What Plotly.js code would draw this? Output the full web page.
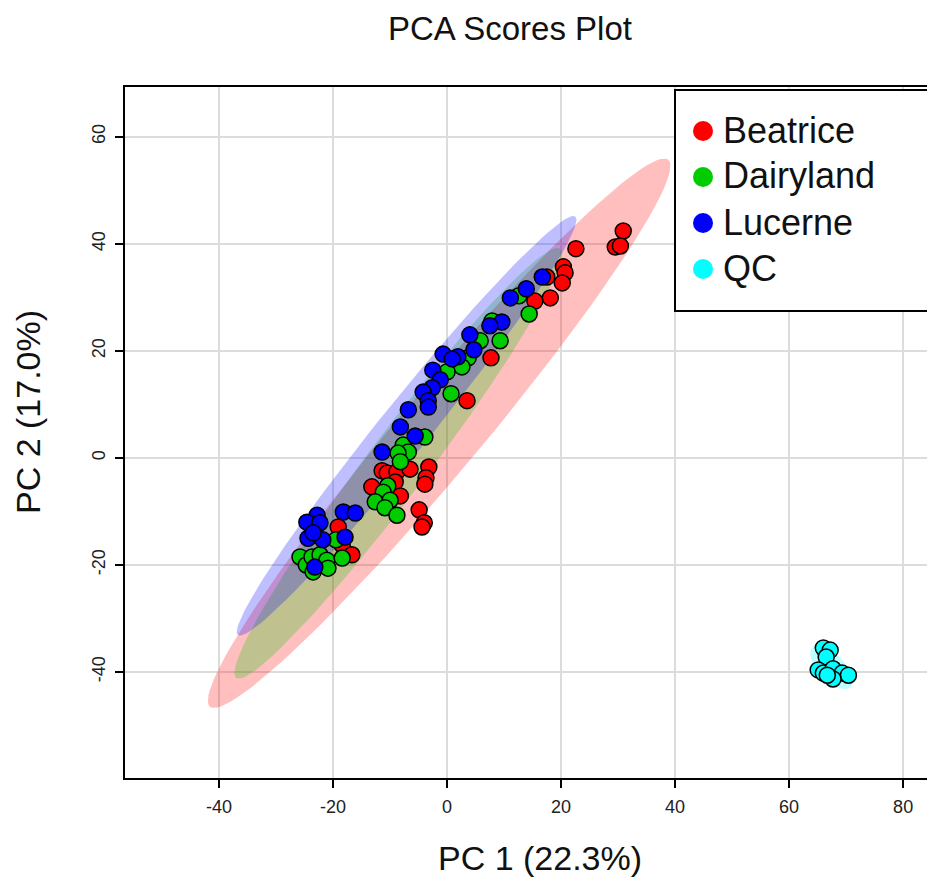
<!DOCTYPE html>
<html>
<head>
<meta charset="utf-8">
<script src="https://cdn.plot.ly/plotly-3.0.1.min.js"></script>
<style>
  html, body { margin: 0; padding: 0; background: #fff; overflow: hidden; }
  #chart { width: 955px; height: 879px; }
</style>
</head>
<body>
<div id="chart"></div>
<script>
// PCA scores: PC1 / PC2 for each milk brand
const groups = ['Beatrice', 'Dairyland', 'Lucerne', 'QC'];

const beatriceX = [30.9, 29.5, 30.4, 22.6, 20.4, 20.7, 20.2, 18.1, 15.4, 17.5, 7.7, 3.5,
  -3.2, -3.7, -3.9, -11.4, -10.5, -8.8, -6.5, -13.2, -9.1, -8.2, -4.9, -4.0, -4.4,
  -19.1, -18.4, -16.7];
const beatriceY = [42.4, 39.4, 39.6, 39.1, 35.7, 34.6, 32.7, 29.9, 29.3, 33.8, 18.7, 10.7,
  -1.7, -3.7, -4.9, -2.4, -2.8, -2.6, -2.1, -5.4, -4.5, -7.1, -9.7, -12.1, -12.9,
  -12.9, -16.3, -18.1];

const dairylandX = [14.4, 12.6, 7.9, 9.3, 5.8, 3.7, 2.6, 0.0, 0.7, -3.9,
  -7.7, -6.8, -8.6, -8.2, -10.4, -11.2, -12.6, -10.0, -10.9, -8.8,
  -25.8, -24.7, -23.5, -23.7, -22.3, -21.1, -20.9, -18.4, -19.5];
const dairylandY = [26.9, 30.3, 25.6, 21.9, 21.9, 18.7, 17.0, 16.1, 12.0, 3.9,
  2.4, 1.1, 0.9, -0.7, -5.2, -6.4, -8.2, -7.9, -9.3, -10.7,
  -18.5, -20.0, -21.3, -18.5, -18.1, -19.1, -20.6, -18.7, -15.3];

const lucerneX = [16.7, 13.9, 11.1, 9.6, 7.5, 4.0, 4.7, -0.7, 1.9, 0.9, -2.5, -1.2, -2.6,
  -4.2, -3.3, -3.3, -6.8, -8.2, -5.6, -11.4,
  -22.8, -24.6, -22.3, -18.2, -16.1, -24.4, -21.8, -23.5, -17.9, -23.2];
const lucerneY = [33.8, 31.6, 29.9, 25.4, 24.7, 23.0, 20.2, 19.4, 18.9, 18.5, 16.4, 14.6, 13.1,
  12.3, 10.7, 9.5, 9.0, 5.8, 4.1, 1.1,
  -10.7, -12.0, -12.1, -10.1, -10.3, -15.0, -15.3, -14.0, -14.8, -20.4];

const qcX = [66.0, 67.2, 66.5, 65.1, 66.0, 67.7, 69.3, 70.4, 67.7, 66.7];
const qcY = [-35.5, -35.9, -37.2, -39.6, -40.2, -39.4, -40.2, -40.6, -41.3, -40.6];

// 95% confidence ellipses: centre and the two semi-axis vectors (PC units)
const ellCenterX = [-1.4, -8.6, -7.1, 67.4];
const ellCenterY = [4.6, -1.0, 6.0, -39.1];
const ellMajorX = [40.2, 28.4, 29.6, 3.33];
const ellMajorY = [51.1, 40.1, 39.1, -3.74];
const ellMinorX = [5.52, 4.2, 3.41, 1.65];
const ellMinorY = [-4.92, -3.38, -2.93, 1.67];

const xTicks = [-40, -20, 0, 20, 40, 60, 80];
const yTicks = [-40, -20, 0, 20, 40, 60];

const pointColors = ['#FF0000', '#00CC00', '#0000FF', '#00FFFF'];
const ellipseFills = ['rgba(255,0,0,0.25)', 'rgba(0,205,0,0.25)',
  'rgba(0,0,255,0.25)', 'rgba(0,255,255,0.25)'];
const FONT = 'Liberation Sans, Arial, sans-serif';

const seriesX = [beatriceX, dairylandX, lucerneX, qcX];
const seriesY = [beatriceY, dairylandY, lucerneY, qcY];

function ellipsePath(i) {
  const xs = [], ys = [];
  const n = 120;
  for (let k = 0; k <= n; k++) {
    const t = 2 * Math.PI * k / n;
    xs.push(ellCenterX[i] + ellMajorX[i] * Math.cos(t) + ellMinorX[i] * Math.sin(t));
    ys.push(ellCenterY[i] + ellMajorY[i] * Math.cos(t) + ellMinorY[i] * Math.sin(t));
  }
  return { xs, ys };
}

const traces = [];
groups.forEach((g, i) => {
  const e = ellipsePath(i);
  traces.push({
    type: 'scatter', mode: 'lines', x: e.xs, y: e.ys,
    fill: 'toself', fillcolor: ellipseFills[i],
    line: { width: 0, color: 'rgba(0,0,0,0)' },
    hoverinfo: 'skip', showlegend: false
  });
});
groups.forEach((g, i) => {
  traces.push({
    type: 'scatter', mode: 'markers', name: g,
    x: seriesX[i], y: seriesY[i],
    marker: { size: 16, color: pointColors[i], line: { color: '#000', width: 1.5 } },
    showlegend: false
  });
});

const W = 955, H = 879, L = 125, R = 0, T = 87, B = 101;
const pw = W - L - R, ph = H - T - B;
const px = v => (v - L) / pw;
const py = v => (H - B - v) / ph;

// legend box: white panel with a key dot and label per group
const legendRowY = [131, 177, 223, 269];
const legendShapes = [{
  type: 'rect', xref: 'paper', yref: 'paper', layer: 'above',
  x0: px(675), x1: px(990), y0: py(311), y1: py(90),
  line: { color: '#000', width: 2 }, fillcolor: '#fff'
}];
const legendLabels = [];
groups.forEach((g, i) => {
  legendShapes.push({
    type: 'circle', xref: 'paper', yref: 'paper', layer: 'above',
    xsizemode: 'pixel', ysizemode: 'pixel',
    xanchor: px(703), yanchor: py(legendRowY[i]),
    x0: -10, x1: 10, y0: -10, y1: 10,
    fillcolor: pointColors[i], line: { width: 0 }
  });
  legendLabels.push({
    text: g, xref: 'paper', yref: 'paper', x: px(721), y: py(legendRowY[i] - 1),
    xanchor: 'left', yanchor: 'middle', showarrow: false,
    font: { family: FONT, size: 36, color: '#111' }
  });
});

const axisCommon = {
  showline: true, linecolor: '#000', linewidth: 2, mirror: true,
  ticks: 'outside', ticklen: 8, tickwidth: 1.5, tickcolor: '#000',
  showgrid: true, gridcolor: '#DCDCDC', gridwidth: 1.5,
  zeroline: false, tickfont: { family: FONT, size: 18, color: '#222' },
  fixedrange: true
};

const layout = {
  width: W, height: H,
  margin: { l: L, r: R, t: T, b: B, pad: 0 },
  paper_bgcolor: '#fff', plot_bgcolor: '#fff',
  font: { family: FONT, color: '#111' },
  showlegend: false,
  title: {
    text: 'PCA Scores Plot', font: { family: FONT, size: 33, color: '#111' },
    x: 510 / W, xanchor: 'center', y: 1 - 28 / H, yanchor: 'middle'
  },
  xaxis: Object.assign({}, axisCommon, {
    range: [-56.5, 89.1], tickmode: 'array', tickvals: xTicks,
    ticktext: xTicks.map(String), ticklabelstandoff: 3
  }),
  yaxis: Object.assign({}, axisCommon, {
    range: [-59.8, 69.3], tickmode: 'array', tickvals: yTicks,
    ticktext: yTicks.map(String), tickangle: -90, ticklabelstandoff: 3
  }),
  shapes: legendShapes,
  annotations: [
    { text: 'PC 1 (22.3%)', xref: 'paper', yref: 'paper', x: px(540), y: py(858),
      xanchor: 'center', yanchor: 'middle', showarrow: false,
      font: { family: FONT, size: 34, color: '#111' } },
    { text: 'PC 2 (17.0%)', xref: 'paper', yref: 'paper', x: px(28), y: py(412),
      xanchor: 'center', yanchor: 'middle', showarrow: false, textangle: -90,
      font: { family: FONT, size: 34, color: '#111' } }
  ].concat(legendLabels)
};

Plotly.newPlot('chart', traces, layout, { displayModeBar: false, staticPlot: true });
</script>
</body>
</html>
